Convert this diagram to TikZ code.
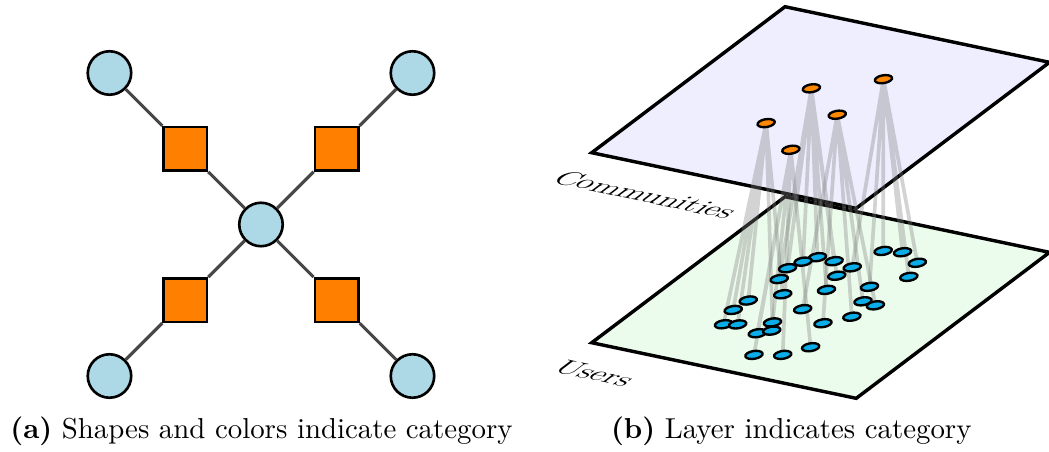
\documentclass[tikz,border=0pt]{standalone}
\usepackage{xcolor}
\definecolor{hubblue}{HTML}{ADD8E6}
\definecolor{catorange}{HTML}{FF7F00}
\definecolor{userblue}{HTML}{0AADE8}
\definecolor{commorange}{HTML}{FF8800}
\definecolor{toplayer}{HTML}{EEEEFF}
\definecolor{botlayer}{HTML}{ECFCEC}
\pgfdeclarelayer{planes}
\pgfdeclarelayer{links}
\pgfsetlayers{planes,links,main}
\tikzset{
  person/.style={circle, draw=black, line width=1pt, fill=hubblue, minimum size=0.58cm, inner sep=0pt},
  catbox/.style={rectangle, draw=black, line width=1pt, fill=catorange, minimum size=0.58cm, inner sep=0pt},
  tie/.style={draw=black!72, line width=1.2pt},
  user/.style={circle, draw=black, line width=0.9pt, fill=userblue, minimum size=0.21cm, inner sep=0pt, transform shape},
  comm/.style={user, fill=commorange},
  link/.style={draw=gray, line width=1.4pt, opacity=0.35},
  sheet/.style={draw=black, line width=1.3pt},
  sheetlabel/.style={anchor=base west, inner sep=0pt, font=\fontsize{13.4}{15}\selectfont, transform shape},
  subcap/.style={anchor=base, inner sep=0pt, font=\fontsize{10.95}{13.6}\selectfont}
}

\begin{document}
\begin{tikzpicture}
\useasboundingbox (0,0) rectangle (14,6.019);

\node[person] (ctr) at (3.483,3.023) {};
\node[person] (tl) at (1.461,5.045) {};
\node[person] (tr) at (5.505,5.045) {};
\node[person] (bl) at (1.461,1.001) {};
\node[person] (br) at (5.505,1.001) {};

\node[catbox] (stl) at (2.473,4.033) {};
\node[catbox] (str) at (4.493,4.033) {};
\node[catbox] (sbl) at (2.473,2.013) {};
\node[catbox] (sbr) at (4.493,2.013) {};

\draw[tie] (ctr) -- (stl) -- (tl);
\draw[tie] (ctr) -- (str) -- (tr);
\draw[tie] (ctr) -- (sbl) -- (bl);
\draw[tie] (ctr) -- (sbr) -- (br);

\begin{scope}[cm={0.8825,-0.1855,0.645,0.4871,(7.897,1.445)}]
\begin{pgfonlayer}{planes}
\filldraw[sheet, fill=botlayer] (0,0) rectangle (4,4);
\end{pgfonlayer}
\node[user] (u1) at (2.01,3.28) {};
\node[user] (u2) at (2.26,3.34) {};
\node[user] (u3) at (2.60,3.18) {};
\node[user] (u4) at (2.72,2.84) {};
\node[user] (u5) at (1.33,2.85) {};
\node[user] (u6) at (1.23,2.69) {};
\node[user] (u7) at (1.15,2.48) {};
\node[user] (u8) at (1.59,2.84) {};
\node[user] (u9) at (1.90,2.79) {};
\node[user] (u10) at (1.85,2.54) {};
\node[user] (u11) at (1.22,2.21) {};
\node[user] (u12) at (1.95,2.19) {};
\node[user] (u13) at (2.41,2.45) {};
\node[user] (u14) at (1.50,1.90) {};
\node[user] (u15) at (1.19,1.61) {};
\node[user] (u16) at (1.16,1.34) {};
\node[user] (u17) at (1.97,1.67) {};
\node[user] (u18) at (2.56,2.11) {};
\node[user] (u19) at (2.77,2.08) {};
\node[user] (u20) at (2.67,1.73) {};
\node[user] (u21) at (2.43,1.46) {};
\node[user] (u22) at (1.27,0.99) {};
\node[user] (u23) at (1.44,1.05) {};
\node[user] (u24) at (1.82,1.25) {};
\node[user] (u25) at (1.81,0.95) {};
\node[user] (u26) at (1.94,1.07) {};
\node[user] (u27) at (2.66,0.89) {};
\node[user] (u28) at (2.45,0.60) {};
\node[user] (u29) at (2.11,0.47) {};
\node[sheetlabel] (users) at (-0.03,-0.8) {Users};
\end{scope}

\begin{scope}[cm={0.8825,-0.1855,0.645,0.4871,(7.897,3.981)}]
\begin{pgfonlayer}{planes}
\filldraw[sheet, fill=toplayer] (0,0) rectangle (4,4);
\end{pgfonlayer}
\node[comm] (c1) at (1.60,1.42) {};
\node[comm] (c2) at (1.59,2.37) {};
\node[comm] (c3) at (2.31,1.92) {};
\node[comm] (c4) at (2.30,2.89) {};
\node[comm] (c5) at (2.31,0.96) {};
\node[sheetlabel] (comms) at (-0.03,-0.82) {Communities};
\end{scope}

\begin{pgfonlayer}{links}
\draw[link] (c1.center) -- (u14.center) (c1.center) -- (u15.center) (c1.center) -- (u16.center)
  (c1.center) -- (u22.center) (c1.center) -- (u23.center) (c1.center) -- (u24.center);
\draw[link] (c2.center) -- (u5.center) (c2.center) -- (u6.center) (c2.center) -- (u7.center)
  (c2.center) -- (u8.center) (c2.center) -- (u10.center) (c2.center) -- (u11.center) (c2.center) -- (u12.center);
\draw[link] (c3.center) -- (u17.center) (c3.center) -- (u18.center) (c3.center) -- (u19.center)
  (c3.center) -- (u20.center) (c3.center) -- (u21.center);
\draw[link] (c4.center) -- (u1.center) (c4.center) -- (u2.center) (c4.center) -- (u3.center)
  (c4.center) -- (u4.center) (c4.center) -- (u9.center) (c4.center) -- (u13.center);
\draw[link] (c5.center) -- (u25.center) (c5.center) -- (u26.center) (c5.center) -- (u27.center)
  (c5.center) -- (u28.center) (c5.center) -- (u29.center);
\end{pgfonlayer}

\node[subcap] (capa) at (3.49,0.17) {\textbf{(a)} Shapes and colors indicate category};
\node[subcap] (capb) at (10.56,0.17) {\textbf{(b)} Layer indicates category};
\end{tikzpicture}
\end{document}
